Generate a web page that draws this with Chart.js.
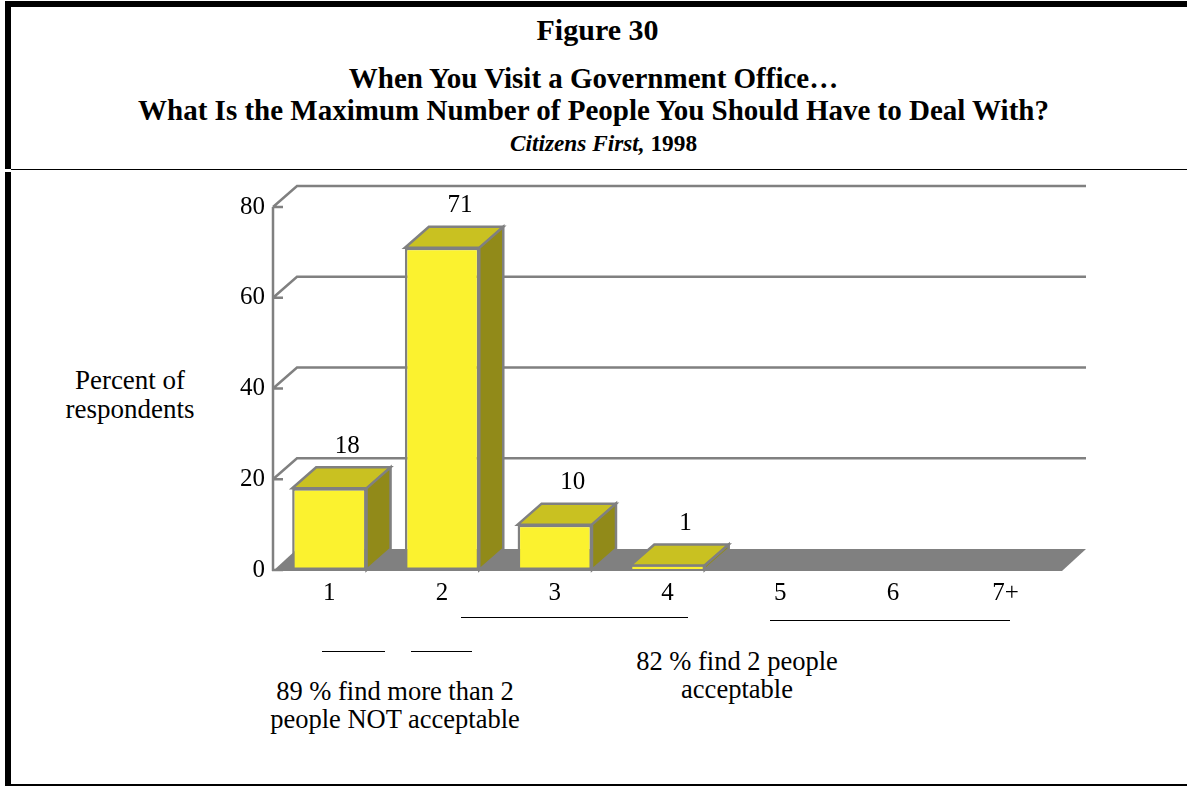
<!DOCTYPE html>
<html>
<head>
<meta charset="utf-8">
<script src="https://cdn.jsdelivr.net/npm/chart.js"></script>
<style>
  html, body { margin: 0; padding: 0; background: #fff; }
  body { width: 1187px; height: 786px; position: relative; overflow: hidden; color: #000; }
  .blk { position: absolute; background: #000; }
  .txt { position: absolute; text-align: center; white-space: nowrap; font-family: "Liberation Serif", "DejaVu Serif", serif; }
  #chartWrap { position: absolute; left: 0; top: 172px; width: 1187px; height: 614px; }
</style>
</head>
<body>
  <!-- frame -->
  <div class="blk" style="left:5px; top:1px; width:1182px; height:6px;"></div>
  <div class="blk" style="left:5px; top:1px; width:6px; height:168px;"></div>
  <div class="blk" style="left:11px; top:169px; width:1176px; height:1px;"></div>
  <div class="blk" style="left:5px; top:172px; width:6px; height:612px;"></div>
  <div class="blk" style="left:5px; top:784px; width:1182px; height:2px;"></div>

  <!-- header -->
  <div class="txt" style="left:4px; width:1187px; top:12px; line-height:36px; font-size:30px; font-weight:bold;">Figure 30</div>
  <div class="txt" style="left:0; width:1187px; top:61px; line-height:34px; font-size:29px; font-weight:bold;">When You Visit a Government Office…</div>
  <div class="txt" style="left:0; width:1187px; top:93px; line-height:34px; font-size:29px; font-weight:bold;">What Is the Maximum Number of People You Should Have to Deal With?</div>
  <div class="txt" style="left:10px; width:1187px; top:129px; line-height:28px; font-size:23.3px; font-weight:bold;"><i>Citizens First,</i> 1998</div>

  <!-- y axis title -->
  <div class="txt" style="left:30px; width:200px; top:366px; line-height:29px; font-size:27px;">Percent of<br>respondents</div>

  <!-- annotations -->
  <div class="blk" style="left:322px; top:651px; width:63px; height:1px;"></div>
  <div class="blk" style="left:411px; top:651px; width:61px; height:1px;"></div>
  <div class="blk" style="left:461px; top:617px; width:227px; height:1px;"></div>
  <div class="blk" style="left:770px; top:620px; width:240px; height:1px;"></div>
  <div class="txt" style="left:245px; width:300px; top:677px; line-height:28px; font-size:26.5px;">89 % find more than 2<br>people NOT acceptable</div>
  <div class="txt" style="left:587px; width:300px; top:647px; line-height:28px; font-size:26.5px;">82 % find 2 people<br>acceptable</div>

  <div id="chartWrap"><canvas id="chart" width="1187" height="614"></canvas></div>

<script>
const categories = ["1", "2", "3", "4", "5", "6", "7+"];
const percentValues = [18, 71, 10, 1, 0, 0, 0];
const yTickValues = [0, 20, 40, 60, 80];

const depthX = 24;
const depthY = -21;
const edgeGray = "#808080";
const frontYellow = "#FBF22F";
const topYellow = "#C9C121";
const sideYellow = "#918A19";

const backdrop3d = {
  id: "backdrop3d",
  beforeDatasetsDraw(chart) {
    const ctx = chart.ctx;
    const area = chart.chartArea;
    const yScale = chart.scales.y;
    ctx.save();
    ctx.strokeStyle = edgeGray;
    ctx.lineWidth = 2.5;
    // back wall gridlines with the little diagonal to the front axis
    yTickValues.forEach((v) => {
      if (v === 0) return;
      const y = yScale.getPixelForValue(v);
      ctx.beginPath();
      ctx.moveTo(area.left, y);
      ctx.lineTo(area.left + 10, y);
      ctx.moveTo(area.left, y);
      ctx.lineTo(area.left + depthX, y + depthY);
      ctx.lineTo(area.right + depthX, y + depthY);
      ctx.stroke();
    });
    // floor
    const y0 = yScale.getPixelForValue(0);
    ctx.fillStyle = edgeGray;
    ctx.beginPath();
    ctx.moveTo(area.left, y0 + 1);
    ctx.lineTo(area.right, y0 + 1);
    ctx.lineTo(area.right + depthX, y0 + depthY);
    ctx.lineTo(area.left + depthX, y0 + depthY);
    ctx.closePath();
    ctx.fill();
    // front vertical axis
    ctx.beginPath();
    ctx.moveTo(area.left, yScale.getPixelForValue(80));
    ctx.lineTo(area.left, y0 + 1);
    ctx.stroke();
    ctx.beginPath();
    ctx.moveTo(area.left - 1, y0);
    ctx.lineTo(area.left + 10, y0);
    ctx.stroke();
    ctx.restore();
  },
  afterDatasetsDraw(chart) {
    const ctx = chart.ctx;
    const meta = chart.getDatasetMeta(0);
    ctx.save();
    ctx.strokeStyle = edgeGray;
    ctx.lineWidth = 2.5;
    meta.data.forEach((bar, i) => {
      const v = percentValues[i];
      if (!v) return;
      const p = bar.getProps(["x", "y", "base", "width"], true);
      const left = p.x - p.width / 2;
      const right = p.x + p.width / 2;
      const top = p.y;
      const bottom = p.base;
      // thin bars: the border eats the front face, show a sliver of yellow
      if (bottom - top < 8) {
        ctx.fillStyle = frontYellow;
        ctx.fillRect(left + 2, bottom - 3.5, p.width - 4, 2.5);
      }
      // top face
      ctx.fillStyle = topYellow;
      ctx.beginPath();
      ctx.moveTo(left, top);
      ctx.lineTo(right, top);
      ctx.lineTo(right + depthX, top + depthY);
      ctx.lineTo(left + depthX, top + depthY);
      ctx.closePath();
      ctx.fill();
      ctx.stroke();
      // side face
      if (bottom - top > 3) {
        ctx.fillStyle = sideYellow;
        ctx.beginPath();
        ctx.moveTo(right, top);
        ctx.lineTo(right + depthX, top + depthY);
        ctx.lineTo(right + depthX, bottom + depthY);
        ctx.lineTo(right, bottom);
        ctx.closePath();
        ctx.fill();
        ctx.stroke();
      }
      // value label
      ctx.fillStyle = "#000";
      ctx.font = "25px 'Liberation Serif'";
      ctx.textAlign = "center";
      ctx.textBaseline = "middle";
      ctx.fillText(String(v), p.x + 18, top - 42);
    });
    ctx.restore();
  }
};

new Chart(document.getElementById("chart").getContext("2d"), {
  type: "bar",
  data: {
    labels: categories,
    datasets: [{
      data: percentValues,
      backgroundColor: frontYellow,
      borderColor: edgeGray,
      borderWidth: (c) => (percentValues[c.dataIndex] ? 2.5 : 0),
      borderSkipped: false,
      categoryPercentage: 1,
      barPercentage: 0.66
    }]
  },
  options: {
    responsive: false,
    animation: false,
    devicePixelRatio: 1,
    layout: { padding: { top: 35, right: 125, left: 0, bottom: 0 } },
    plugins: { legend: { display: false }, tooltip: { enabled: false } },
    scales: {
      x: {
        grid: { display: false, drawTicks: false },
        border: { display: false },
        ticks: { color: "#000", font: { family: "Liberation Serif", size: 25 }, padding: 8 },
        afterFit(scale) { scale.height = 216; }
      },
      y: {
        min: 0,
        max: 80,
        grid: { display: false, drawTicks: false },
        border: { display: false },
        ticks: { stepSize: 20, color: "#000", font: { family: "Liberation Serif", size: 25 }, padding: 8 },
        afterFit(scale) { scale.width = 273; }
      }
    }
  },
  plugins: [backdrop3d]
});
</script>
</body>
</html>
